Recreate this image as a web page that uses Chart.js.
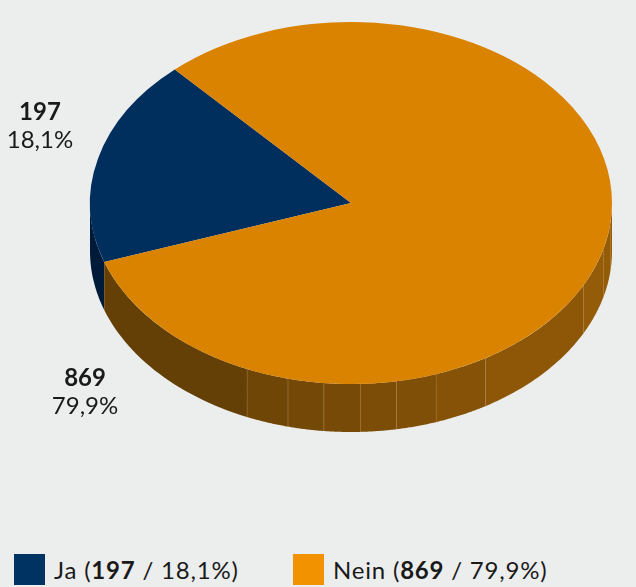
<!DOCTYPE html>
<html lang="de">
<head>
<meta charset="utf-8">
<script src="https://cdn.jsdelivr.net/npm/chart.js@4.4.1/dist/chart.umd.min.js"></script>
<style>
  html, body { margin: 0; padding: 0; background: #eceeed; }
  body { width: 636px; height: 587px; position: relative; overflow: hidden; font-family: Lato, "Open Sans", sans-serif; }
  #wrap { position: absolute; left: 0; top: 0; width: 636px; height: 540px; }
  .item { position: absolute; top: 554px; display: flex; align-items: center; font-size: 24px; letter-spacing: 0.8px; color: #1a1a1a; }
  .box { width: 31px; height: 31px; margin-right: 9px; }
  .item b { font-weight: 700; }
</style>
</head>
<body>
<div id="wrap"><canvas id="myChart" width="636" height="540"></canvas></div>
<script>
// values
const categories = ['Ja', 'Nein'];
const counts = [197, 869];
const shares = ['18,1%', '79,9%'];

const topColors = ['#002e5d', '#d98300'];
const legendColors = ['#003262', '#f39200'];

function mix(a, b, t) {
    return 'rgb(' + a.map((v, i) => Math.round(v + (b[i] - v) * t)).join(',') + ')';
}

// draws the side wall under the pie and squashes the top into an ellipse
const pie3d = {
    id: 'pie3d',
    beforeDatasetsDraw(chart, args, opts) {
        const ctx = chart.ctx;
        const meta = chart.getDatasetMeta(0);
        const first = meta.data[0];
        const cx = first.x, cy = first.y, r = first.outerRadius;
        const k = opts.tilt, depth = opts.depth, cyTop = opts.centerY;
        const ex = a => cx + r * Math.cos(a);
        const ey = a => cyTop + r * k * Math.sin(a);
        const cuts = opts.facets.map(d => d * Math.PI / 180);

        ctx.save();
        meta.data.forEach((arc, i) => {
            const [dark, light] = opts.wallColors[i];
            for (let n = -1; n <= 2; n++) {
                const base = 2 * Math.PI * n;
                const lo = Math.max(arc.startAngle, base);
                const hi = Math.min(arc.endAngle, base + Math.PI);
                if (hi <= lo) continue;
                const edges = [lo, ...cuts.map(c => c + base).filter(c => c > lo && c < hi), hi];
                for (let j = 0; j < edges.length - 1; j++) {
                    const u = edges[j], v = edges[j + 1];
                    const m = (u + v) / 2;
                    const ds = (v - u) / 30;
                    ctx.beginPath();
                    for (let s = 0; s <= 30; s++) ctx.lineTo(ex(u + ds * s), ey(u + ds * s));
                    for (let s = 30; s >= 0; s--) ctx.lineTo(ex(u + ds * s), ey(u + ds * s) + depth);
                    ctx.closePath();
                    ctx.fillStyle = mix(dark, light, (1 + Math.cos(m)) / 2);
                    ctx.fill();
                    if (j < edges.length - 2) {
                        ctx.beginPath();
                        ctx.moveTo(ex(v), ey(v));
                        ctx.lineTo(ex(v), ey(v) + depth);
                        ctx.strokeStyle = 'rgba(215,170,110,0.5)';
                        ctx.lineWidth = 1;
                        ctx.stroke();
                    }
                }
            }
        });
        ctx.restore();

        ctx.save();
        ctx.translate(0, cyTop - cy * k);
        ctx.scale(1, k);
    },
    afterDatasetsDraw(chart, args, opts) {
        const ctx = chart.ctx;
        ctx.restore();
        const meta = chart.getDatasetMeta(0);
        const first = meta.data[0];
        const cx = first.x, r = first.outerRadius;
        ctx.save();
        ctx.fillStyle = '#1a1a1a';
        ctx.textAlign = 'center';
        ctx.textBaseline = 'middle';
        opts.labelPos.forEach((p, i) => {
            const a = p[0] * Math.PI / 180;
            const x = cx + r * p[1] * Math.cos(a);
            const y = opts.centerY + r * opts.tilt * p[1] * Math.sin(a);
            ctx.font = 'bold 24px Lato, sans-serif';
            ctx.fillText(String(counts[i]), x, y - 14);
            ctx.font = '24px Lato, sans-serif';
            ctx.fillText(shares[i], x, y + 14);
        });
        ctx.restore();
    }
};

const ctx = document.getElementById('myChart').getContext('2d');
const myChart = new Chart(ctx, {
    type: 'pie',
    data: {
        labels: categories,
        datasets: [{
            data: counts,
            backgroundColor: topColors,
            borderWidth: 0
        }]
    },
    options: {
        responsive: false,
        animation: false,
        events: [],
        rotation: 251,
        layout: { padding: { left: 90, right: 24, top: 0, bottom: 18 } },
        plugins: {
            legend: { display: false },
            tooltip: { enabled: false },
            pie3d: {
                tilt: 181 / 261,
                depth: 48,
                centerY: 203,
                facets: [7, 15, 27, 59, 71, 80, 88, 96, 104, 113.5],
                wallColors: [
                    [[0, 26, 58], [0, 34, 72]],
                    [[92, 58, 6], [150, 92, 8]]
                ],
                labelPos: [[199.6, 1.265], [134.3, 1.459]]
            }
        }
    },
    plugins: [pie3d]
});

// legend with bold counts
const legendLeft = [14, 293];
categories.forEach((c, i) => {
    const item = document.createElement('div');
    item.className = 'item';
    item.style.left = legendLeft[i] + 'px';
    item.innerHTML = '<span class="box" style="background:' + legendColors[i] + '"></span>' +
        '<span>' + c + ' (<b>' + counts[i] + '</b> / ' + shares[i] + ')</span>';
    document.body.appendChild(item);
});
</script>
</body>
</html>
